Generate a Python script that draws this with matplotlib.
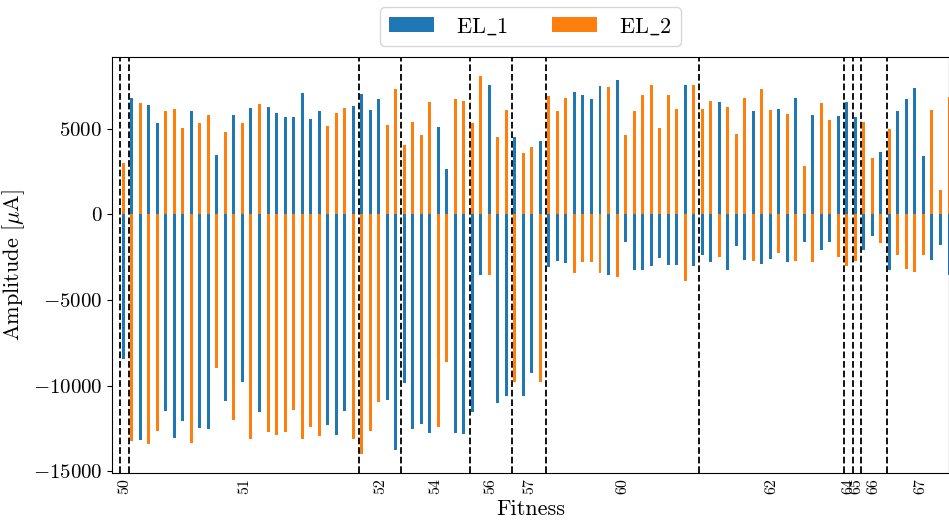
import numpy as np
import matplotlib
matplotlib.use("Agg")
import matplotlib.pyplot as plt

plt.rcParams['font.family'] = ['cmr10', 'DejaVu Serif']
plt.rcParams['mathtext.fontset'] = 'cm'
plt.rcParams['axes.formatter.use_mathtext'] = True

# amplitude per stimulus for each electrode (uA), sorted by fitness
el_1 = [-8440, 6790, -13190, 6400, 5300, -11500, -13080, -12090, 6000, -12490,
        -12550, 3490, -10920, 5820, -9760, 6230, -11560, 6290, 5940, 5650,
        5700, 7100, 5590, 6000, -12320, -12900, -11500, 6340, 7040, 6110,
        6750, -10810, -13770, -9820, -12550, -12260, -12780, 5120, 2620, -12780,
        -12840, -11560, -3530, 7570, -11040, -10630, 4540, -10630, -9290, 4250,
        -3070, -2720, -2830, 7160, 6980, 6750, 7510, -3530, 7860, -1610,
        -3240, -3240, -3010, -2540, -2950, -2950, 7570, -3010, -2370, -2770,
        6580, -3240, -1840, -2660, 6050, -2890, -2600, 6170, -2770, 6810,
        -1610, 5820, -2080, -1610, 5760, 6580, 5650, -2080, -1260, 3610,
        -3240, 6050, 6750, 7390, 3430, -2660, -1790, -3530]
el_2 = [2970, -13250, 6500, -13430, -12670, 6000, 6170, 5060, -13370, 5350,
        5820, -9000, 4830, -12030, 5350, -13130, 6460, -12720, -12900, -12720,
        -11450, -13130, -12440, -12960, 5180, 5940, 6230, -13130, -13970, -12670,
        -10980, 5240, 7330, 4070, 5410, 4600, 6580, -12440, -8650, 6750,
        6640, 5300, 8090, -3530, 4540, 6110, -9760, 3550, 3900, -9760,
        6930, 6050, 6810, -3410, -2770, -2770, -3410, 7450, -3650, 4600,
        6000, 6980, 7570, 5060, 6980, 6170, -3880, 7570, 6170, 6640,
        -2480, 6290, 4710, 6810, -2720, 7330, 6110, -2250, 5880, -2720,
        2790, -2770, 6520, 5530, -2480, -3010, -2720, 5410, 3260, -1670,
        4950, -2370, -3180, -3360, -2370, 6110, 1400, 6870]

fitness_labels = ['50', '51', '52', '54', '56', '57', '60', '62', '64', '65', '66', '67']
group_sizes = [1, 27, 5, 8, 5, 4, 18, 17, 1, 1, 3, 8]

x = np.arange(len(el_1))
starts = np.concatenate([[0], np.cumsum(group_sizes)]) - 0.33
tick_pos = (starts[:-1] + starts[1:]) / 2

fig = plt.figure(figsize=(9.49, 5.21), dpi=100)
ax = fig.add_axes([0.118, 0.093, 0.882, 0.798])

ax.bar(x, el_1, width=0.35, color='#1f77b4', label=r'$\mathrm{EL\_1}$')
ax.bar(x, el_2, width=0.35, color='#ff7f0e', label=r'$\mathrm{EL\_2}$')

# group boundaries
for s in starts[:-1]:
    ax.axvline(s, color='black', linestyle='--', linewidth=1.3)

ax.set_xlim(-1.33, 97.0)
ax.set_xticks(tick_pos)
ax.set_xticklabels(fitness_labels, rotation=90, fontsize=11.5)
ax.tick_params(axis='x', length=0, pad=4)
ax.tick_params(axis='y', labelsize=15)

ax.set_xlabel('Fitness', fontsize=16, labelpad=4)
ax.set_ylabel(r'Amplitude [$\mu$A]', fontsize=16)

ax.legend(loc='lower center', bbox_to_anchor=(0.5, 1.0), ncol=2, fontsize=16,
          columnspacing=2.0, handletextpad=1.0)

fig.savefig('out.png', dpi=100)
